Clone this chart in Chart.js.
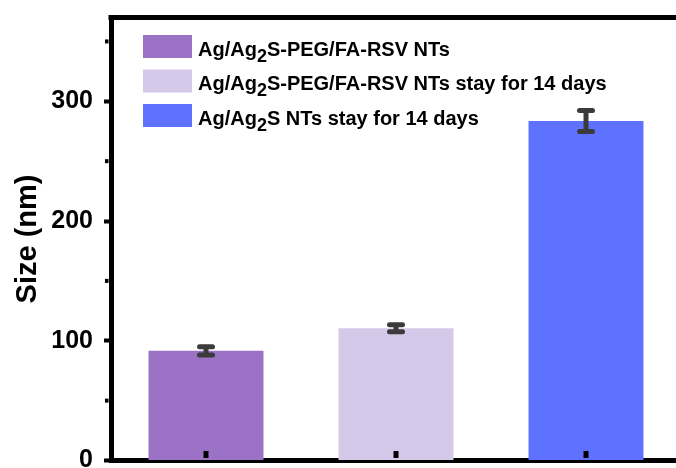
<!DOCTYPE html>
<html><head><meta charset="utf-8">
<script src="https://cdn.jsdelivr.net/npm/chart.js@4.4.1/dist/chart.umd.min.js"></script>
<style>
html,body{margin:0;padding:0;overflow:hidden;background:#fff;width:676px;height:468px;}
#wrap{position:relative;width:690px;height:468px;}
</style></head><body>
<div id="wrap"><canvas id="c" width="690" height="468"></canvas></div>
<script>
// ---- data ----
const categories = ['Ag/Ag₂S-PEG/FA-RSV NTs', 'Ag/Ag₂S-PEG/FA-RSV NTs stay for 14 days', 'Ag/Ag₂S NTs stay for 14 days'];
const sizes = [91.6, 110.5, 283.5];
const errors = [3.5, 2.9, 8.8];
const barColors = ['#9B72C6', '#D6C8E8', '#5F71FF'];
const yMajorTicks = [0, 100, 200, 300];
const yMinorTicks = [50, 150, 250, 350];
const yMin = 0, yMax = 370;
const yTitle = 'Size (nm)';

const FONT = '"Liberation Sans", Arial, sans-serif';

const datasets = categories.map((name, i) => ({
  label: name,
  data: categories.map((_, j) => j === i ? sizes[i] : null),
  backgroundColor: barColors[i],
  borderWidth: 0,
  categoryPercentage: 1,
  barPercentage: 0.605,
  skipNull: true
}));

const decorPlugin = {
  id: 'decor',
  afterDatasetsDraw(chart) {
    const ctx = chart.ctx, ys = chart.scales.y;
    ctx.save();
    // error bars
    ctx.strokeStyle = '#3b3b3b';
    ctx.lineWidth = 5;
    ctx.lineCap = 'round';
    datasets.forEach((ds, i) => {
      const el = chart.getDatasetMeta(i).data[i];
      if (!el) return;
      const x = el.x;
      const yT = ys.getPixelForValue(sizes[i] + errors[i]);
      const yB = ys.getPixelForValue(sizes[i] - errors[i]);
      ctx.beginPath();
      ctx.moveTo(x, yT); ctx.lineTo(x, yB);
      ctx.moveTo(x - 6.5, yT); ctx.lineTo(x + 6.5, yT);
      ctx.moveTo(x - 6.5, yB); ctx.lineTo(x + 6.5, yB);
      ctx.stroke();
    });
    ctx.restore();
  },
  afterDraw(chart) {
    const ctx = chart.ctx, ys = chart.scales.y, xs = chart.scales.x;
    const a = chart.chartArea;
    ctx.save();
    // frame top & right
    ctx.strokeStyle = '#000';
    ctx.lineWidth = 5;
    ctx.lineCap = 'square';
    ctx.beginPath();
    ctx.moveTo(a.left, a.top); ctx.lineTo(a.right, a.top); ctx.lineTo(a.right, a.bottom);
    ctx.stroke();
    // inward x ticks
    ctx.lineWidth = 5;
    ctx.lineCap = 'butt';
    xs.ticks.forEach((t, i) => {
      const x = xs.getPixelForTick(i);
      ctx.beginPath();
      ctx.moveTo(x, a.bottom - 2.5); ctx.lineTo(x, a.bottom - 9.5);
      ctx.stroke();
    });
    // minor y ticks
    ctx.lineWidth = 4;
    yMinorTicks.forEach(v => {
      const y = ys.getPixelForValue(v);
      ctx.beginPath();
      ctx.moveTo(a.left - 2.5, y); ctx.lineTo(a.left - 6, y);
      ctx.stroke();
    });
    // legend
    const sw = 49, sh = 23, step = 34.5;
    const lx = a.left + 32, ly = a.top + 17.5;
    const mainFont = 'bold 20px ' + FONT;
    const subFont = 'bold 18px ' + FONT;
    ctx.textBaseline = 'alphabetic';
    ctx.textAlign = 'left';
    datasets.forEach((ds, i) => {
      const top = ly + i * step;
      ctx.fillStyle = ds.backgroundColor;
      ctx.fillRect(lx, top, sw, sh);
      ctx.fillStyle = '#000';
      let x = lx + sw + 6;
      const base = top + 20.5;
      const parts = ds.label.split('₂');
      parts.forEach((p, k) => {
        ctx.font = mainFont;
        ctx.fillText(p, x, base);
        x += ctx.measureText(p).width;
        if (k < parts.length - 1) {
          ctx.font = subFont;
          ctx.fillText('2', x, base + 6);
          x += ctx.measureText('2').width;
        }
      });
    });
    ctx.restore();
  }
};

new Chart(document.getElementById('c'), {
  type: 'bar',
  data: { labels: categories, datasets },
  options: {
    responsive: false,
    animation: false,
    layout: { padding: { top: 17.5, right: 9, left: 0, bottom: 0 } },
    plugins: { legend: { display: false }, tooltip: { enabled: false } },
    scales: {
      x: {
        z: 1,
        grid: { display: false, drawTicks: false },
        border: { display: true, width: 5, color: '#000' },
        ticks: { display: false },
        afterFit(s) { s.height = 7.5; }
      },
      y: {
        z: 1,
        min: yMin, max: yMax,
        afterBuildTicks(s) { s.ticks = yMajorTicks.map(v => ({ value: v })); },
        ticks: { font: { family: FONT, size: 25, weight: 'bold' }, color: '#000', padding: 11 },
        grid: { drawOnChartArea: false, drawTicks: true, tickLength: 7, tickWidth: 4, tickColor: '#000' },
        border: { display: true, width: 5, color: '#000' },
        title: { display: true, text: yTitle, color: '#000', font: { family: FONT, size: 29, weight: 'bold' }, padding: { top: 11, bottom: 0 } },
        afterFit(s) { s.width = 111; s.paddingTop = 0; s.paddingBottom = 0; }
      }
    }
  },
  plugins: [decorPlugin]
});
</script>
</body></html>
